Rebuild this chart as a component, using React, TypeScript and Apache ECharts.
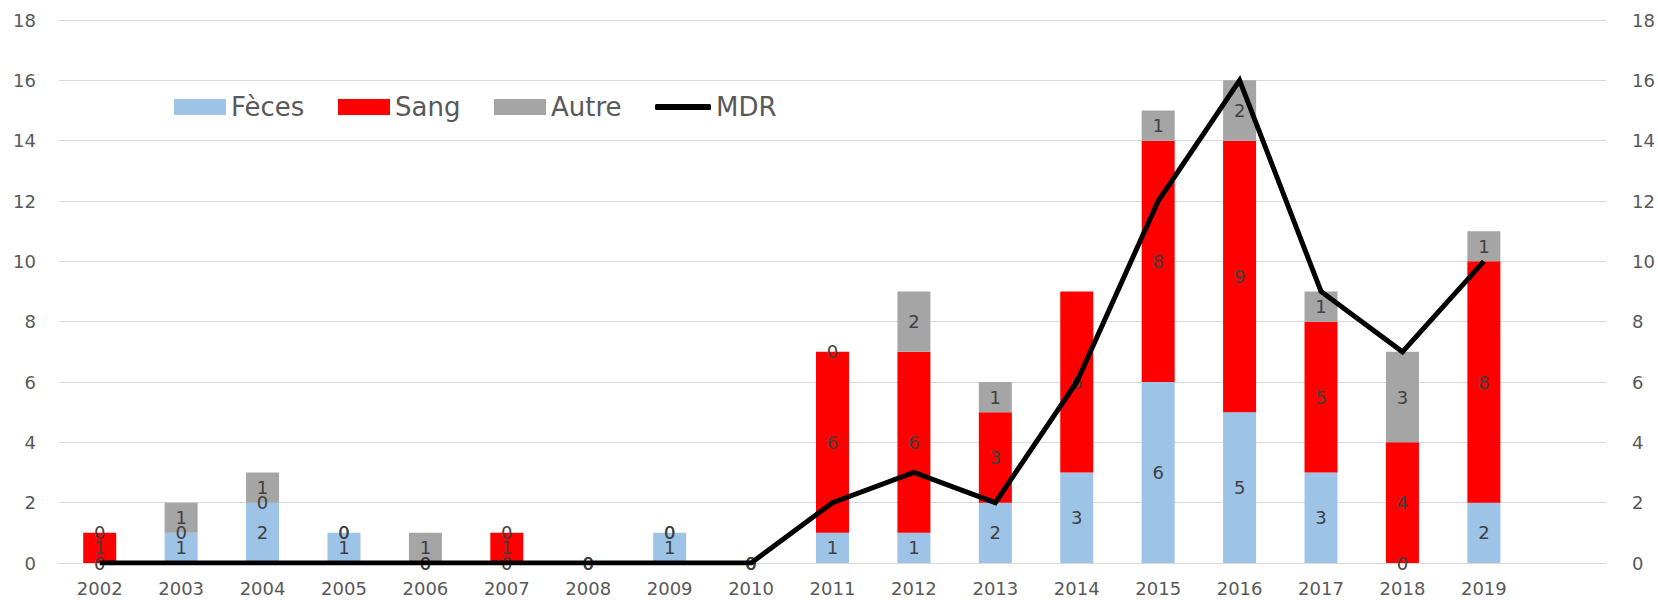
import React, { useEffect, useRef } from "react";
import * as echarts from "echarts";

const years = ["2002", "2003", "2004", "2005", "2006", "2007", "2008", "2009", "2010", "2011", "2012", "2013", "2014", "2015", "2016", "2017", "2018", "2019"];
const feces = [0, 1, 2, 1, 0, 0, 0, 1, 0, 1, 1, 2, 3, 6, 5, 3, 0, 2];
const sang = [1, 0, 0, 0, 0, 1, 0, 0, 0, 6, 6, 3, 6, 8, 9, 5, 4, 8];
const autre = [0, 1, 1, 0, 1, 0, 0, 0, 0, 0, 2, 1, null, 1, 2, 1, 3, 1];
const mdr = [0, 0, 0, 0, 0, 0, 0, 0, 0, 2, 3, 2, 6, 12, 16, 9, 7, 10];
const yTicks = [0, 2, 4, 6, 8, 10, 12, 14, 16, 18];

const FONT = "DejaVu Sans";
const TXT = "#595959";

export default function App() {
  const ref = useRef<HTMLDivElement>(null);
  useEffect(() => {
    document.body.style.margin = "0";
    if (!ref.current) return;
    const chart = echarts.init(ref.current, undefined, { renderer: "svg" });
    const barLabel = {
      show: true,
      position: "inside",
      color: "#404040",
      fontSize: 18,
      fontFamily: FONT,
    };
    const legendText = { color: TXT, fontSize: 26, fontFamily: FONT };
    const mkLegend = (name: string, left: number, w: number, h: number, icon: string) => ({
      data: [name],
      left,
      top: 89,
      itemWidth: w,
      itemHeight: h,
      itemGap: 0,
      icon,
      textStyle: legendText,
      selectedMode: false,
    });
    chart.setOption({
      animation: false,
      textStyle: { fontFamily: FONT },
      legend: [
        mkLegend("Fèces", 169, 52, 16, "rect"),
        mkLegend("Sang", 333, 52, 16, "rect"),
        mkLegend("Autre", 489, 52, 16, "rect"),
        mkLegend("MDR", 650, 56, 6, "roundRect"),
      ],
      grid: { left: 59, right: 52, top: 20, bottom: 37 },
      xAxis: {
        type: "category",
        data: [...years, ""],
        axisLine: { lineStyle: { color: "#D9D9D9" } },
        axisTick: { show: false },
        axisLabel: { color: TXT, fontSize: 18, fontFamily: FONT, margin: 16 },
      },
      yAxis: [
        {
          type: "value",
          min: yTicks[0],
          max: yTicks[yTicks.length - 1],
          interval: 2,
          axisLine: { show: false },
          axisTick: { show: false },
          splitLine: { lineStyle: { color: "#D9D9D9", width: 1 } },
          axisLabel: { color: TXT, fontSize: 18, fontFamily: FONT, margin: 23 },
        },
        {
          type: "value",
          min: yTicks[0],
          max: yTicks[yTicks.length - 1],
          interval: 2,
          axisLine: { show: false },
          axisTick: { show: false },
          splitLine: { show: false },
          axisLabel: { color: TXT, fontSize: 18, fontFamily: FONT, margin: 26 },
        },
      ],
      series: [
        { name: "Fèces", type: "bar", stack: "s", data: feces, barWidth: 33, itemStyle: { color: "#9DC3E6" }, label: barLabel },
        { name: "Sang", type: "bar", stack: "s", data: sang, barWidth: 33, itemStyle: { color: "#FF0000" }, label: barLabel },
        { name: "Autre", type: "bar", stack: "s", data: autre, barWidth: 33, itemStyle: { color: "#A5A5A5" }, label: barLabel },
        {
          name: "MDR",
          type: "line",
          yAxisIndex: 1,
          data: mdr,
          symbol: "none",
          lineStyle: { color: "#000000", width: 5, join: "miter" },
          itemStyle: { color: "#000000" },
          z: 5,
        },
      ],
    });
    return () => chart.dispose();
  }, []);
  return <div ref={ref} style={{ width: 1658, height: 600 }} />;
}
